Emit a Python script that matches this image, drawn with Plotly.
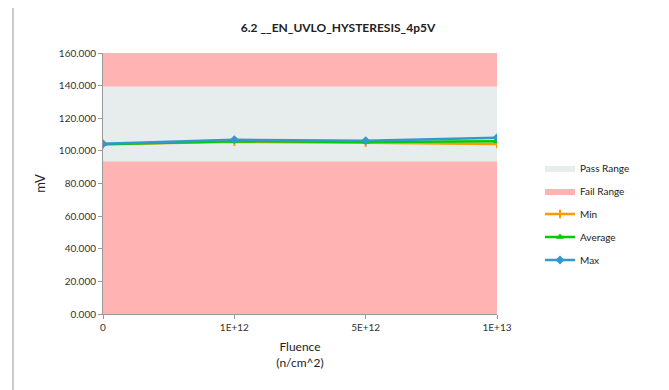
import plotly.graph_objects as go

categories = ["0", "1E+12", "5E+12", "1E+13"]
min_vals = [104.0, 105.6, 105.0, 104.2]
avg_vals = [104.1, 105.9, 105.4, 105.9]
max_vals = [104.3, 106.8, 106.2, 108.0]
pass_low = 93.5
pass_high = 139.5
fail_top = 160.0
y_ticks = [0, 20, 40, 60, 80, 100, 120, 140, 160]

x = list(range(len(categories)))
n = len(categories)

# page body has an 8px margin, so work in page pixels shifted by OFF
OFF = 8
W, H = 669 - OFF, 390 - OFF
L, R, T, B = 103 - OFF, 497 - OFF, 53 - OFF, 314 - OFF
pw, ph = R - L, B - T


def px(xp):
    return (xp - OFF - L) / pw


def py(yp):
    return (B - (yp - OFF)) / ph


font = "Lato, 'Open Sans', sans-serif"
fig = go.Figure()

# Fail range background (0 -> 160)
fig.add_trace(go.Scatter(x=x, y=[0] * n, mode="lines", line=dict(width=0),
                         showlegend=False, hoverinfo="skip"))
fig.add_trace(go.Scatter(x=x, y=[fail_top] * n, mode="lines", line=dict(width=0),
                         fill="tonexty", fillcolor="#FFB3B3", name="Fail Range",
                         legend="legend2"))
# Pass range band
fig.add_trace(go.Scatter(x=x, y=[pass_low] * n, mode="lines", line=dict(width=0),
                         showlegend=False, hoverinfo="skip"))
fig.add_trace(go.Scatter(x=x, y=[pass_high] * n, mode="lines", line=dict(width=0),
                         fill="tonexty", fillcolor="#E7ECEC", name="Pass Range",
                         legend="legend"))

fig.add_trace(go.Scatter(x=x, y=min_vals, mode="lines+markers", name="Min",
                         line=dict(color="#FF9900", width=2.5),
                         marker=dict(symbol="line-ns", size=6, color="#FF9900",
                                     line=dict(color="#FF9900", width=2)),
                         legend="legend3"))
fig.add_trace(go.Scatter(x=x, y=avg_vals, mode="lines+markers", name="Average",
                         line=dict(color="#00CC00", width=2.5),
                         marker=dict(symbol="triangle-up", size=7, color="#00CC00"),
                         legend="legend4"))
fig.add_trace(go.Scatter(x=x, y=max_vals, mode="lines+markers", name="Max",
                         line=dict(color="#3399CC", width=2.5),
                         marker=dict(symbol="diamond", size=7, color="#3399CC"),
                         legend="legend5"))

leg_font = dict(size=10, color="#222222", family=font)
leg_rows = [168, 191, 214, 237, 260]
legends = {}
for i, yrow in enumerate(leg_rows):
    key = "legend" if i == 0 else f"legend{i + 1}"
    legends[key] = dict(x=px(540), y=py(yrow), xanchor="left", yanchor="middle",
                        font=leg_font, bgcolor="rgba(0,0,0,0)", itemwidth=30)

fig.update_layout(
    width=W, height=H,
    margin=dict(l=L, r=W - R, t=T, b=H - B),
    paper_bgcolor="white", plot_bgcolor="white",
    font=dict(family=font, size=10, color="#333333"),
    title=dict(text="<b>6.2 __EN_UVLO_HYSTERESIS_4p5V</b>", x=(338 - OFF) / W,
               xanchor="center", y=1 - (28 - OFF) / H, yanchor="middle",
               font=dict(size=12, color="#222222", family=font)),
    showlegend=True,
    xaxis=dict(range=[0, n - 1], tickmode="array", tickvals=x, ticktext=categories,
               showgrid=False, zeroline=False, showline=True, linecolor="#999999",
               ticks="outside", ticklen=4, tickcolor="#999999",
               tickfont=dict(size=10, color="#333333"),
               title=dict(text="Fluence<br>(n/cm^2)", font=dict(size=12, color="#222222"),
                          standoff=10)),
    yaxis=dict(range=[0, 160], tickmode="array", tickvals=y_ticks,
               ticktext=[f"{v:.3f}" for v in y_ticks],
               showgrid=False, zeroline=False, showline=True, linecolor="#999999",
               ticks="outside", ticklen=4, tickcolor="#999999",
               tickfont=dict(size=10, color="#333333"),
               title=dict(text="mV", font=dict(size=13, color="#222222"), standoff=10)),
    shapes=[dict(type="rect", xref="paper", yref="paper",
                 x0=px(13), x1=px(700), y0=py(420), y1=py(6),
                 line=dict(color="#BBBBBB", width=1.5), fillcolor="rgba(0,0,0,0)",
                 layer="below")],
    **legends,
)

fig.write_html("out.html")
